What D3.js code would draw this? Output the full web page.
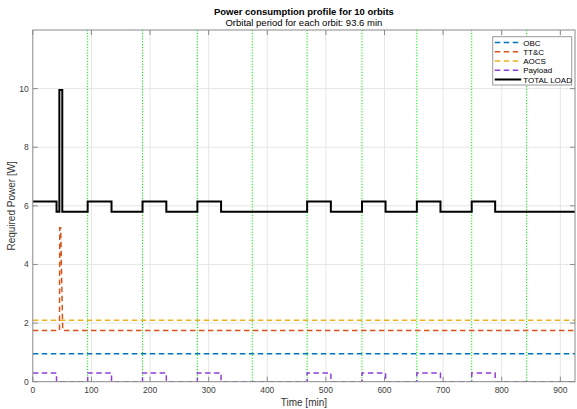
<!DOCTYPE html>
<html>
<head>
<meta charset="utf-8">
<script src="https://cdn.jsdelivr.net/npm/d3@7"></script>
<style>
  html, body { margin: 0; padding: 0; background: #fff; }
  svg { display: block; font-family: "Liberation Sans", Arial, Helvetica, sans-serif; }
</style>
</head>
<body>
<svg id="chart" width="577" height="409"></svg>
<script>
// ---------------- DATA ----------------
const xTicks = [0, 100, 200, 300, 400, 500, 600, 700, 800, 900];
const yTicks = [0, 2, 4, 6, 8, 10];
const xDomain = [0, 925];
const yDomain = [0, 12];

// orbit boundaries (orbital period 93.6 min)
const orbitBoundaries = [93.6, 187.2, 280.8, 374.4, 468, 561.6, 655.2, 748.8, 842.4];

// OBC (constant)
const obcTime = [0, 925];
const obcPower = [0.95, 0.95];

// TT&C (with communication peak in orbit 1)
const ttcTime = [0, 45.5, 46, 47.5, 51, 925];
const ttcPower = [1.75, 1.75, 5.25, 5.25, 1.75, 1.75];

// AOCS (constant)
const aocsTime = [0, 925];
const aocsPower = [2.1, 2.1];

// Payload
const payloadTime = [0, 40.5, 40.5, 93.6, 93.6, 134.3, 134.3, 187.2, 187.2, 227.8, 227.8, 280.8, 280.8, 321.2, 321.2,
                     468, 468, 508.5, 508.5, 561.6, 561.6, 601.8, 601.8, 655.2, 655.2, 695.5, 695.5, 748.8, 748.8, 788.8, 788.8, 925];
const payloadPower = [0.3, 0.3, 0, 0, 0.3, 0.3, 0, 0, 0.3, 0.3, 0, 0, 0.3, 0.3, 0,
                      0, 0.3, 0.3, 0, 0, 0.3, 0.3, 0, 0, 0.3, 0.3, 0, 0, 0.3, 0.3, 0, 0];

// TOTAL LOAD
const totalTime = [0, 40.5, 40.5, 45.3, 45.3, 50.3, 50.3, 93.6, 93.6, 134.3, 134.3, 187.2, 187.2, 227.8, 227.8, 280.8, 280.8, 321.2, 321.2,
                   468, 468, 508.5, 508.5, 561.6, 561.6, 601.8, 601.8, 655.2, 655.2, 695.5, 695.5, 748.8, 748.8, 788.8, 788.8, 925];
const totalPower = [6.15, 6.15, 5.8, 5.8, 9.95, 9.95, 5.8, 5.8, 6.15, 6.15, 5.8, 5.8, 6.15, 6.15, 5.8, 5.8, 6.15, 6.15, 5.8,
                    5.8, 6.15, 6.15, 5.8, 5.8, 6.15, 6.15, 5.8, 5.8, 6.15, 6.15, 5.8, 5.8, 6.15, 6.15, 5.8, 5.8];

const seriesNames = ["OBC", "TT&C", "AOCS", "Payload", "TOTAL LOAD"];
const seriesColors = ["#0072BD", "#D95319", "#EDB120", "#8E3FD6", "#000000"];

// ---------------- LAYOUT ----------------
const svg = d3.select("#chart");
const L = 32.8, R = 575, T = 30, B = 381.7;
const x = d3.scaleLinear().domain(xDomain).range([L, R]);
const y = d3.scaleLinear().domain(yDomain).range([B, T]);

const axisColor = "#8a8a8a";
const labelColor = "#404040";

// grid
const grid = svg.append("g");
grid.selectAll("line.gx").data(xTicks.filter(d => d > 0)).enter().append("line")
  .attr("x1", d => x(d)).attr("x2", d => x(d)).attr("y1", T).attr("y2", B)
  .attr("stroke", "#e6e6e6").attr("stroke-width", 1);
grid.selectAll("line.gy").data(yTicks.filter(d => d > 0)).enter().append("line")
  .attr("x1", L).attr("x2", R).attr("y1", d => y(d)).attr("y2", d => y(d))
  .attr("stroke", "#e6e6e6").attr("stroke-width", 1);

// clip
svg.append("clipPath").attr("id", "clip").append("rect")
  .attr("x", L).attr("y", T).attr("width", R - L).attr("height", B - T);
const plot = svg.append("g").attr("clip-path", "url(#clip)");

// orbit boundaries
plot.selectAll("line.orb").data(orbitBoundaries).enter().append("line")
  .attr("x1", d => x(d)).attr("x2", d => x(d)).attr("y1", T).attr("y2", B)
  .attr("stroke", "#00ee00").attr("stroke-width", 1).attr("stroke-dasharray", "1.2,1.6");

const line = d3.line().x(d => x(d[0])).y(d => y(d[1]));
function zip(a, b) { return a.map((v, i) => [v, b[i]]); }

const seriesData = [
  zip(obcTime, obcPower),
  zip(ttcTime, ttcPower),
  zip(aocsTime, aocsPower),
  zip(payloadTime, payloadPower),
  zip(totalTime, totalPower)
];

seriesData.forEach((data, i) => {
  plot.append("path").datum(data)
    .attr("d", line)
    .attr("fill", "none")
    .attr("stroke", seriesColors[i])
    .attr("stroke-width", i === 4 ? 2 : 1.5)
    .attr("stroke-dasharray", i === 4 ? null : "5.5,3.5")
    .attr("stroke-linejoin", "miter");
});

// axes box
const box = svg.append("g");
box.append("rect").attr("x", L).attr("y", T).attr("width", R - L).attr("height", B - T)
  .attr("fill", "none").attr("stroke", axisColor).attr("stroke-width", 1);

const tl = 5;
box.selectAll("line.xt").data(xTicks).enter().append("line")
  .attr("x1", d => x(d)).attr("x2", d => x(d)).attr("y1", B).attr("y2", B - tl)
  .attr("stroke", axisColor);
box.selectAll("line.xt2").data(xTicks).enter().append("line")
  .attr("x1", d => x(d)).attr("x2", d => x(d)).attr("y1", T).attr("y2", T + tl)
  .attr("stroke", axisColor);
box.selectAll("line.yt").data(yTicks).enter().append("line")
  .attr("x1", L).attr("x2", L + tl).attr("y1", d => y(d)).attr("y2", d => y(d))
  .attr("stroke", axisColor);
box.selectAll("line.yt2").data(yTicks).enter().append("line")
  .attr("x1", R).attr("x2", R - tl).attr("y1", d => y(d)).attr("y2", d => y(d))
  .attr("stroke", axisColor);

// tick labels
svg.selectAll("text.xl").data(xTicks).enter().append("text")
  .attr("x", d => x(d)).attr("y", B + 11.5)
  .attr("text-anchor", "middle").attr("font-size", 8.5).attr("fill", labelColor)
  .text(d => d);
svg.selectAll("text.yl").data(yTicks).enter().append("text")
  .attr("x", L - 4).attr("y", d => y(d) + 3)
  .attr("text-anchor", "end").attr("font-size", 8.5).attr("fill", labelColor)
  .text(d => d);

// axis labels
svg.append("text").attr("x", (L + R) / 2).attr("y", 406)
  .attr("text-anchor", "middle").attr("font-size", 10).attr("fill", "#333")
  .text("Time [min]");
svg.append("text").attr("transform", `translate(15,${(T + B) / 2}) rotate(-90)`)
  .attr("text-anchor", "middle").attr("font-size", 10).attr("fill", "#333")
  .text("Required Power [W]");

// titles
svg.append("text").attr("x", (L + R) / 2).attr("y", 15)
  .attr("text-anchor", "middle").attr("font-size", 9.5).attr("font-weight", "bold").attr("fill", "#000")
  .text("Power consumption profile for 10 orbits");
svg.append("text").attr("x", (L + R) / 2).attr("y", 25.5)
  .attr("text-anchor", "middle").attr("font-size", 9.5).attr("fill", "#000")
  .text("Orbital period for each orbit: 93.6 min");

// legend
const lg = svg.append("g");
const lx0 = 492.7, ly0 = 36.7, lw = 79, lh = 48.3;
lg.append("rect").attr("x", lx0).attr("y", ly0).attr("width", lw).attr("height", lh)
  .attr("fill", "#fff").attr("stroke", "#9a9a9a").attr("stroke-width", 1);
seriesNames.forEach((name, i) => {
  const yy = ly0 + 5.8 + i * 9.25;
  lg.append("line").attr("x1", lx0 + 2).attr("x2", lx0 + 28.5).attr("y1", yy).attr("y2", yy)
    .attr("stroke", seriesColors[i]).attr("stroke-width", i === 4 ? 2 : 1.5)
    .attr("stroke-dasharray", i === 4 ? null : "5.5,3.5");
  lg.append("text").attr("x", lx0 + 30.5).attr("y", yy + 3)
    .attr("font-size", 8).attr("fill", "#000").text(name);
});
</script>
</body>
</html>
